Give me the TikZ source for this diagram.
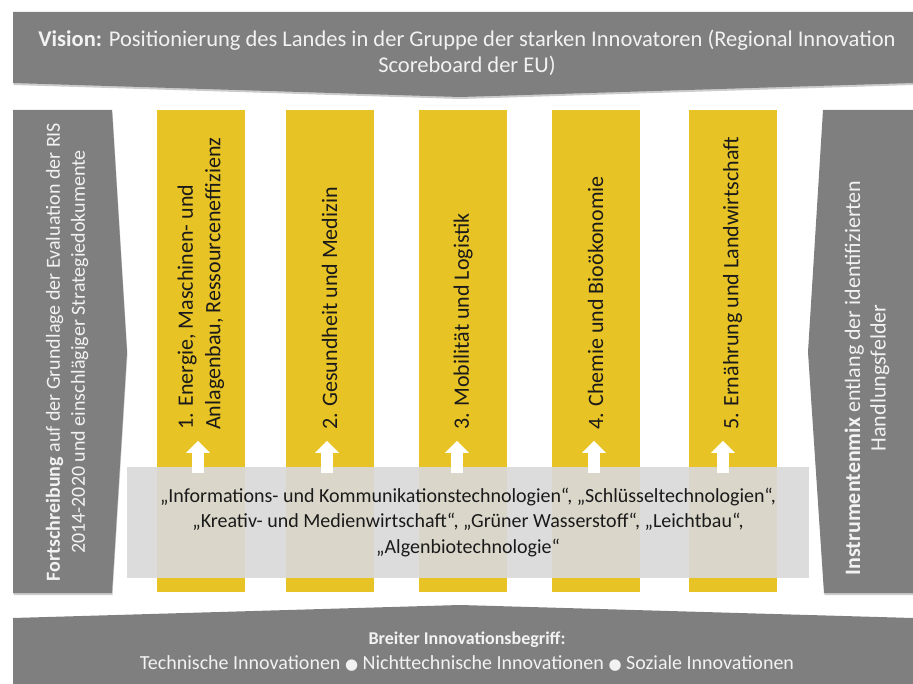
\documentclass[tikz,border=0pt]{standalone}
\usepackage{fontspec}
\setmainfont{Carlito}
\newfontfamily\symfont{DejaVu Sans}
\usetikzlibrary{positioning,shadows,arrows.meta}

\definecolor{dunkelgrau}{HTML}{7F7F7F}
\definecolor{hellgrau}{HTML}{D9D9D9}
\definecolor{gelb}{HTML}{E8C326}
\definecolor{weisslich}{HTML}{F2F2F2}
\definecolor{textschwarz}{HTML}{1A1A1A}

\tikzset{
  feld/.style={rectangle, fill=gelb, minimum width=88pt, minimum height=482pt, inner sep=0pt},
  feldtext/.style={rotate=90, anchor=west, align=left, inner sep=0pt, text=textschwarz, font=\fontsize{22}{27.5}\selectfont},
  pfeil/.style={white, line width=12pt, -{Triangle[width=23pt,length=12pt]}},
  bannertext/.style={text=weisslich, align=center, inner sep=0pt},
  schatten/.style={drop shadow={shadow xshift=0.5pt, shadow yshift=-2pt, opacity=0.2, fill=black}}
}

\begin{document}
\begin{tikzpicture}[x=1pt, y=-1pt]
\useasboundingbox (0,0) rectangle (913,684);

% Vision oben
\fill[dunkelgrau, schatten] (13,12) -- (913,12) -- (913,83) -- (460,97) -- (13,83) -- cycle;
\node[bannertext, font=\fontsize{22.5}{26}\selectfont] (vision) at (467,53) {\textbf{Vision:} Positionierung des Landes in der Gruppe der starken Innovatoren (Regional Innovation\\Scoreboard der EU)};

% Seitenpfeile
\fill[dunkelgrau, schatten] (13,110) -- (112,110) -- (127,352) -- (112,593) -- (13,593) -- cycle;
\node[bannertext, rotate=90, font=\fontsize{20}{25}\selectfont] (fortschr) at (67,352) {\textbf{Fortschreibung} auf der Grundlage der Evaluation der RIS\\2014-2020 und einschlägiger Strategiedokumente};

\fill[dunkelgrau, schatten] (823,110) -- (913,110) -- (913,593) -- (824,593) -- (808,352) -- cycle;
\node[bannertext, rotate=90, font=\fontsize{22}{25.5}\selectfont] (instr) at (867,378) {\textbf{Instrumentenmix} entlang der identifizierten\\Handlungsfelder};

% Handlungsfelder
\foreach \n/\x in {1/201, 2/329.5, 3/463, 4/595.5, 5/732.5}
  \node[feld] (feld\n) at (\x,351) {};

\node[feldtext] (t1) at (201,430) {1. Energie, Maschinen- und\\Anlagenbau, Ressourceneffizienz};
\node[feldtext] (t2) at (329.5,430) {2. Gesundheit und Medizin};
\node[feldtext] (t3) at (463,430) {3. Mobilität und Logistik};
\node[feldtext] (t4) at (595.5,430) {4. Chemie und Bioökonomie};
\node[feldtext] (t5) at (732.5,430) {5. Ernährung und Landwirtschaft};

% Querschnittsthemen
\node[fill=hellgrau, fill opacity=0.92, text opacity=1, minimum width=682pt, minimum height=111pt, inner sep=0pt, align=center, text=textschwarz, font=\fontsize{20}{25.5}\selectfont] (kbox) at (468,522.5) {„Informations- und Kommunikationstechnologien“, „Schlüsseltechnologien“,\\„Kreativ- und Medienwirtschaft“, „Grüner Wasserstoff“, „Leichtbau“,\\„Algenbiotechnologie“};

\foreach \n/\x in {1/198, 2/327, 3/457, 4/594, 5/723}
  \draw[pfeil] (kbox.north -| \x,0) ++(0,6) -- ++(0,-32);

% Innovationsbegriff unten
\fill[dunkelgrau] (13,618) -- (460,605) -- (913,618) -- (913,684) -- (13,684) -- cycle;
\node[bannertext, font=\fontsize{18}{25}\selectfont] (breit) at (467,652) {\textbf{Breiter Innovationsbegriff:}\\\fontsize{20}{25}\selectfont Technische Innovationen {\symfont\fontsize{15}{15}\selectfont ●} Nichttechnische Innovationen {\symfont\fontsize{15}{15}\selectfont ●} Soziale Innovationen};
\end{tikzpicture}
\end{document}
